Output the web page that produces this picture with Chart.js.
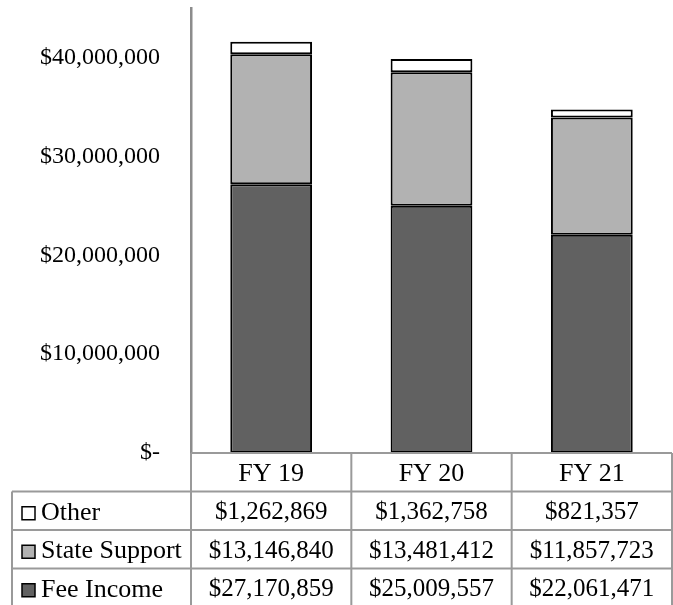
<!DOCTYPE html>
<html><head><meta charset="utf-8">
<script src="https://cdn.jsdelivr.net/npm/chart.js@4/dist/chart.umd.min.js"></script>
<style>html,body{margin:0;padding:0;background:#fff}</style>
</head><body>
<canvas id="c" width="673" height="605"></canvas>
<script>
const categories = ['FY 19', 'FY 20', 'FY 21'];
const feeIncome = [27170859, 25009557, 22061471];
const stateSupport = [13146840, 13481412, 11857723];
const other = [1262869, 1362758, 821357];
const yTicks = [0, 10000000, 20000000, 30000000, 40000000];
const seriesNames = ['Other', 'State Support', 'Fee Income'];

const FONT = "'Liberation Serif', 'Times New Roman', serif";
const colFee = '#616161', colState = '#b2b2b2', colOther = '#ffffff';
const lineCol = '#9a9a9a';

function fmt(v) { return v === 0 ? '$-' : '$' + v.toLocaleString('en-US'); }

const tablePlugin = {
  id: 'dataTable',
  afterDraw(chart) {
    const ctx = chart.ctx, ca = chart.chartArea, xs = chart.scales.x;
    const n = categories.length;
    const cw = (ca.right - ca.left) / n;
    const rowH = 38.5;
    const top = ca.bottom;
    const leftX = 12;
    const rows = [
      { name: seriesNames[0], vals: other, fill: colOther },
      { name: seriesNames[1], vals: stateSupport, fill: colState },
      { name: seriesNames[2], vals: feeIncome, fill: colFee }
    ];
    const bottom = top + rowH * (rows.length + 1);
    ctx.save();
    ctx.strokeStyle = lineCol;
    ctx.lineWidth = 2;
    ctx.beginPath();
    ctx.moveTo(ca.left, top); ctx.lineTo(ca.right, top);
    for (let r = 1; r <= rows.length + 1; r++) {
      ctx.moveTo(leftX, top + rowH * r); ctx.lineTo(ca.right, top + rowH * r);
    }
    for (let i = 0; i <= n; i++) {
      const x = ca.left + cw * i;
      ctx.moveTo(x, top); ctx.lineTo(x, bottom);
    }
    ctx.moveTo(leftX, top + rowH); ctx.lineTo(leftX, bottom);
    ctx.stroke();

    ctx.fillStyle = '#000';
    ctx.textBaseline = 'middle';
    ctx.textAlign = 'center';
    ctx.font = '26px ' + FONT;
    categories.forEach((c, i) => {
      ctx.fillText(c, xs.getPixelForValue(i), top + rowH / 2 + 2);
    });
    rows.forEach((row, r) => {
      const cy = top + rowH * (r + 1) + rowH / 2 + 2;
      ctx.textAlign = 'center';
      ctx.font = '25px ' + FONT;
      row.vals.forEach((v, i) => ctx.fillText(fmt(v), xs.getPixelForValue(i), cy));
      ctx.fillStyle = row.fill;
      ctx.fillRect(22, cy - 6, 13, 13);
      ctx.strokeStyle = '#000';
      ctx.lineWidth = 1.5;
      ctx.strokeRect(22, cy - 6, 13, 13);
      ctx.fillStyle = '#000';
      ctx.textAlign = 'left';
      ctx.font = '26px ' + FONT;
      ctx.fillText(row.name, 41, cy);
    });
    ctx.restore();
  }
};

const ds = (label, data, color) => ({
  label, data, backgroundColor: color, borderColor: '#000', borderWidth: 2,
  borderSkipped: false, categoryPercentage: 1.0, barPercentage: 0.51
});

function build() {
  new Chart(document.getElementById('c'), {
    type: 'bar',
    data: {
      labels: categories,
      datasets: [
        ds(seriesNames[2], feeIncome, colFee),
        ds(seriesNames[1], stateSupport, colState),
        ds(seriesNames[0], other, colOther)
      ]
    },
    options: {
      responsive: false,
      devicePixelRatio: 1,
      animation: false,
      layout: { padding: { top: 8, right: 1, bottom: 152, left: 0 } },
      plugins: { legend: { display: false }, tooltip: { enabled: false } },
      scales: {
        x: {
          stacked: true,
          display: true,
          grid: { display: false, drawTicks: false },
          border: { display: false },
          ticks: { display: false },
          afterFit: s => { s.height = 0; s.paddingLeft = 0; s.paddingRight = 0; }
        },
        y: {
          stacked: true,
          min: 0, max: 45000000,
          grid: { display: false, drawTicks: false },
          border: { display: true, color: '#8c8c8c', width: 2.5 },
          afterBuildTicks: s => { s.ticks = yTicks.map(v => ({ value: v })); },
          afterFit: s => { s.width = 191; s.paddingTop = 0; s.paddingBottom = 0; },
          ticks: {
            padding: 31,
            color: '#000',
            font: { family: FONT, size: 24 },
            callback: v => fmt(v)
          }
        }
      }
    },
    plugins: [tablePlugin]
  });
}
(document.fonts && document.fonts.load ? document.fonts.load("24px 'Liberation Serif'") : Promise.resolve())
  .then(build, build);
</script>
</body></html>
